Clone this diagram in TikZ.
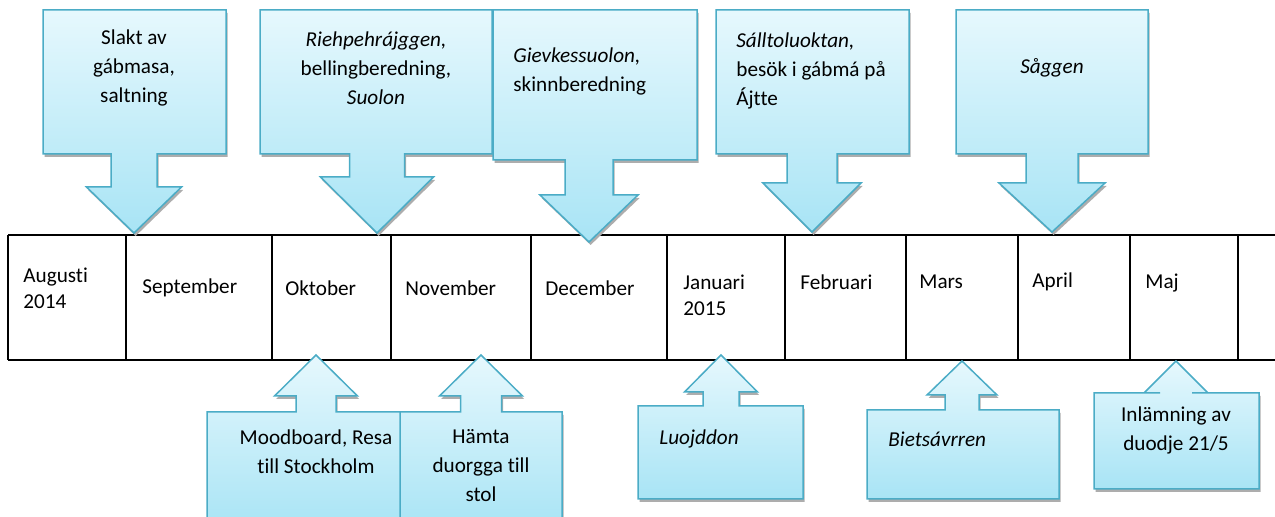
\documentclass[tikz,border=0pt]{standalone}
\usepackage{fontspec}
\setmainfont[Ligatures=NoCommon]{Carlito}
\usetikzlibrary{shadows}
\definecolor{calline}{HTML}{4BACC6}
\definecolor{caltop}{HTML}{E6F8FD}
\definecolor{calbot}{HTML}{A8E4F5}
\tikzset{
callout/.style={draw=calline, line width=0.75pt, top color=caltop,
    bottom color=calbot, drop shadow={shadow xshift=0.8pt,
    shadow yshift=-1.5pt, fill=black!32, opacity=1}},
tabline/.style={line width=1.2pt},
month/.style={anchor=west, inner sep=0pt, align=left,
    font=\fontsize{10.6}{13}\selectfont},
calltext/.style={inner sep=0pt, font=\fontsize{10.6}{14.5}\selectfont}
}
% box left, right, far edge, near edge, tip x, tip y, shaft, wing, neck
\newcommand{\callbox}[9]{%
  \draw[callout] (#1,#3) -- (#2,#3) -- (#2,#4) -- ({#5+#7},#4) -- ({#5+#7},#9)
    -- ({#5+#8},#9) -- (#5,#6) -- ({#5-#8},#9) -- ({#5-#7},#9) -- ({#5-#7},#4)
    -- (#1,#4) -- cycle;}

\begin{document}
\begin{tikzpicture}[x=0.5pt, y=-0.5pt]
	\useasboundingbox (0,0) rectangle (1275,517);
	\clip (0,0) rectangle (1275,517);
	% months
	\draw[tabline] (8,235) -- (1275,235) (8,360) -- (1275,360);
	\foreach \x in {8,126,272,391,531,667,785,906,1018,1130,1238}
		\draw[tabline] (\x,235) -- (\x,360);
	\node[month] (aug) at (23,288) {Augusti\\2014};
	\node[month] (sep) at (142,288) {September};
	\node[month] (okt) at (285,288) {Oktober};
	\node[month] (nov) at (405,288) {November};
	\node[month] (dec) at (545,288) {December};
	\node[month] (jan) at (683,295) {Januari\\2015};
	\node[month] (feb) at (800,282) {Februari};
	\node[month] (mar) at (919,282) {Mars};
	\node[month] (apr) at (1032,282) {April};
	\node[month] (maj) at (1145,283) {Maj};
	% above
	\callbox{43}{226}{10}{154}{134}{233}{23}{47.5}{187}
	\node[calltext, align=center] (slakt) at (134,68) {Slakt av\\gábmasa,\\saltning};
	\callbox{260}{492}{10}{154}{377}{233}{27.5}{56.5}{177}
	\node[calltext, align=center] (riehp) at (376,68)
		{\textit{Riehpehrájggen,}\\bellingberedning,\\\textit{Suolon}};
	\callbox{493}{697}{10}{160}{589}{242}{24}{49}{195}
	\node[calltext, align=left, anchor=west] (gievk) at (513,71.5)
		{\textit{Gievkessuolon,}\\skinnberedning};
	\callbox{716}{909}{10}{154}{812}{232}{25}{49}{183}
	\node[calltext, align=left, anchor=west] (sallt) at (736,71)
		{\textit{Sálltoluoktan,}\\besök i gábmá på\\Ájtte};
	\callbox{956}{1148}{10}{154}{1052}{232}{26}{53}{183}
	\node[calltext] (saggen) at (1052,68) {\textit{Såggen}};
	% below
	\callbox{207}{425}{530}{412}{316}{355}{20}{41.5}{396}
	\node[calltext, align=center] (mood) at (316,452) {Moodboard, Resa\\till Stockholm};
	\callbox{400}{562}{530}{412}{481}{355}{20.5}{41.5}{396}
	\node[calltext, align=center] (hamta) at (481,466) {Hämta\\duorgga till\\stol};
	\callbox{638}{803}{499}{406}{721}{355}{18}{36.5}{392}
	\node[calltext, anchor=west] (luojd) at (659,439) {\textit{Luojddon}};
	\callbox{867}{1059}{499}{410}{962}{361}{17}{35}{395}
	\node[calltext, anchor=west] (biets) at (888,439) {\textit{Bietsávrren}};
	\callbox{1094}{1259}{489}{393}{1176}{361}{16}{32}{393}
	\node[calltext, align=center] (inlam) at (1176,430) {Inlämning av\\duodje 21/5};
\end{tikzpicture}
\end{document}
